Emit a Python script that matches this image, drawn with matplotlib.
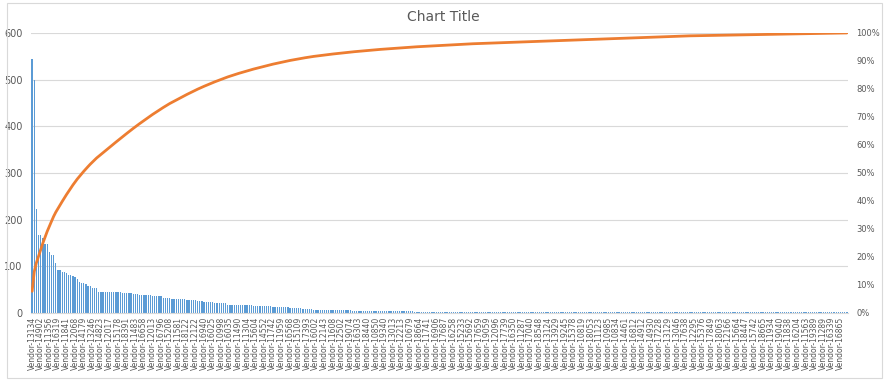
import matplotlib.pyplot as plt
from matplotlib.ticker import FuncFormatter, MultipleLocator
import numpy as np

# vendor labels that are visible on the axis (every 4th bar)
vendor_labels = [
    "13134", "14902", "11356", "16319", "11841", "12068", "14179", "13246",
    "14823", "12017", "15178", "18391", "11483", "16658", "12013", "16796",
    "15208", "11581", "18122", "12122", "16940", "16025", "10998", "16035",
    "11490", "11304", "15604", "14552", "11742", "11959", "16568", "15109",
    "17393", "16002", "12143", "11608", "12502", "19074", "16303", "18440",
    "10850", "19340", "13013", "12213", "10679", "18664", "11741", "16906",
    "17687", "16258", "15233", "15692", "17659", "19059", "12096", "17739",
    "16350", "11287", "17040", "18548", "13124", "13929", "19245", "15378",
    "10819", "18053", "11123", "10985", "10834", "14461", "16812", "14912",
    "14930", "17228", "13129", "13046", "17638", "12295", "15376", "17849",
    "18063", "12166", "15664", "18447", "15742", "18665", "11934", "19040",
    "11838", "16204", "11563", "19389", "11289", "16339", "16865",
]
label_step = 4

# bar heights, as (value, number of bars in a row)
run_values = [545, 500, 222, 167, 160, 147, 130, 125, 124, 107, 92, 88, 86,
              82, 79, 76, 72, 66, 64, 62, 58, 53,
              45, 44, 43, 41, 39,
              36, 33, 29, 27, 25,
              23, 21, 18, 16,
              14, 12, 10,
              9, 7, 6,
              5, 4,
              4, 3,
              3, 2,
              2,
              2, 1]
run_counts = [1, 1, 1, 2, 1, 2, 1, 1, 1, 1, 2, 2, 1,
              2, 1, 1, 1, 1, 2, 1, 2, 3,
              6, 5, 5, 3, 6,
              5, 4, 7, 5, 3,
              5, 6, 5, 7,
              9, 8, 6,
              5, 8, 10,
              12, 11,
              6, 18,
              8, 15,
              46,
              40, 75]

values = np.repeat(run_values, run_counts)
n = len(values)
x = np.arange(n)
cum_pct = np.cumsum(values) / values.sum()

grey = "#595959"
fig = plt.figure(figsize=(8.87, 3.83), dpi=100)
fig.patches.append(plt.Rectangle((0.008, 0.012), 0.986, 0.98, transform=fig.transFigure,
                                 fill=False, edgecolor="#D9D9D9", linewidth=0.8))
ax = fig.add_axes([0.035, 0.183, 0.921, 0.731])

ax.bar(x, values, width=0.6, color="#5B9BD5", zorder=2)
ax.set_xlim(-0.5, n - 0.5)
ax.set_ylim(0, 600)
ax.yaxis.set_major_locator(MultipleLocator(100))
ax.grid(axis="y", color="#D9D9D9", linewidth=0.8, zorder=0)
ax.set_axisbelow(True)
for s in ["top", "right", "left"]:
    ax.spines[s].set_visible(False)
ax.spines["bottom"].set_color("#D9D9D9")

ticks = np.arange(0, len(vendor_labels) * label_step, label_step)
ax.set_xticks(ticks)
ax.set_xticklabels(["Vendor-" + v for v in vendor_labels], rotation=90,
                   fontsize=5.5, color=grey)
ax.tick_params(axis="x", length=0, pad=3)
ax.tick_params(axis="y", length=0, labelsize=7, colors=grey, pad=6)

ax2 = ax.twinx()
ax2.plot(x, cum_pct, color="#ED7D31", linewidth=2, solid_capstyle="round")
ax2.set_ylim(0, 1)
ax2.yaxis.set_major_locator(MultipleLocator(0.1))
ax2.yaxis.set_major_formatter(FuncFormatter(lambda v, p: f"{v:.0%}"))
ax2.tick_params(axis="y", length=0, labelsize=6, colors=grey, pad=6)
for s in ax2.spines.values():
    s.set_visible(False)

fig.text(0.5, 0.955, "Chart Title", ha="center", va="center", fontsize=10, color=grey)

fig.savefig("out.png", dpi=100)
